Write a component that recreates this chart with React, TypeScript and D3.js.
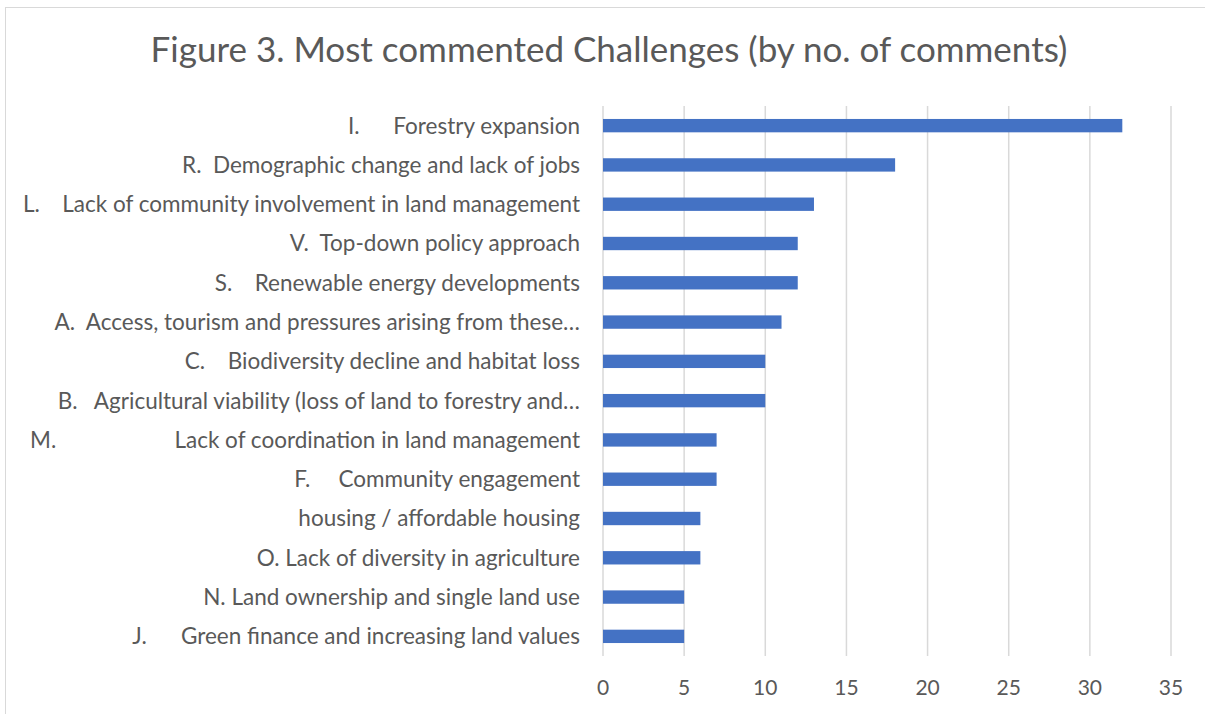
import * as d3 from 'd3';

const labels = [
  'I.\u2002\u2002\u2002Forestry expansion',
  'R.  Demographic change and lack of jobs',
  'L.\u2002\u2002Lack of community involvement in land management',
  'V.  Top-down policy approach',
  'S.\u2002\u2002Renewable energy developments',
  'A.  Access, tourism and pressures arising from these…',
  'C.\u2002  Biodiversity decline and habitat loss',
  'B.\u2002 Agricultural viability (loss of land to forestry and…',
  'M.\u2003\u2003\u2003\u2003\u2003\u2003\u2002 Lack of coordination in land management',
  'F.\u2002\u2002 Community engagement',
  'housing / affordable housing',
  'O. Lack of diversity in agriculture',
  'N. Land ownership and single land use',
  'J.\u2002\u2002  Green finance and increasing land values',
];
const comments = [32, 18, 13, 12, 12, 11, 10, 10, 7, 7, 6, 6, 5, 5];
const xTicks = [0, 5, 10, 15, 20, 25, 30, 35];

const W = 1205;
const H = 714;
const PLOT = { left: 603, right: 1171, top: 106, bottom: 656 };
const FONT = 'Lato, "Open Sans", sans-serif';
const TEXT = '#595959';

export default function App() {
  const x = d3.scaleLinear().domain([0, 35]).range([PLOT.left, PLOT.right]);
  const y = d3
    .scaleBand<string>()
    .domain(labels)
    .range([PLOT.top, PLOT.bottom])
    .paddingInner(0.66)
    .paddingOuter(0.33);

  return (
    <svg
      width={W}
      height={H}
      style={{ position: 'absolute', left: 0, top: 0, display: 'block', background: '#fff' }}
    >
      <rect x={5.5} y={7.5} width={1210} height={720} fill="#fff" stroke="#d9d9d9" />
      <text
        x={609}
        y={62}
        textAnchor="middle"
        fontFamily={FONT}
        fontSize={35}
        fill={TEXT}
      >
        Figure 3. Most commented Challenges (by no. of comments)
      </text>

      {/* gridlines */}
      {xTicks.map((t) => (
        <line
          key={t}
          x1={x(t)}
          x2={x(t)}
          y1={PLOT.top}
          y2={PLOT.bottom}
          stroke="#d9d9d9"
          strokeWidth={1.5}
        />
      ))}

      {/* bars */}
      {labels.map((l, i) => (
        <rect
          key={l}
          x={x(0)}
          y={y(l)!}
          width={x(comments[i]) - x(0)}
          height={y.bandwidth()}
          fill="#4472c4"
        />
      ))}

      {/* category labels */}
      {labels.map((l) => (
        <text
          key={l}
          x={580}
          y={y(l)! + y.bandwidth() / 2}
          dy="0.35em"
          textAnchor="end"
          fontFamily={FONT}
          fontSize={22.5}
          fill={TEXT}
          style={{ whiteSpace: 'pre' }}
        >
          {l}
        </text>
      ))}

      {/* tick labels */}
      {xTicks.map((t) => (
        <text
          key={t}
          x={x(t)}
          y={695}
          textAnchor="middle"
          fontFamily={FONT}
          fontSize={21}
          fill={TEXT}
        >
          {t}
        </text>
      ))}
    </svg>
  );
}
